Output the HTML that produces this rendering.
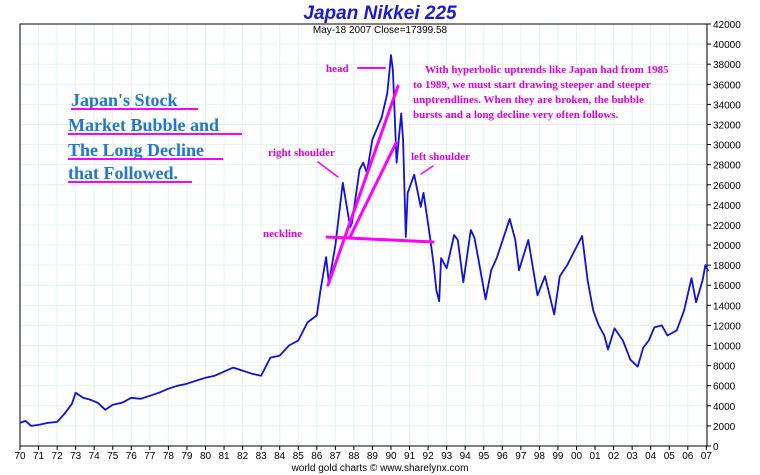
<!DOCTYPE html>
<html><head><meta charset="utf-8"><style>
html,body{margin:0;padding:0;background:#fff;}
svg{display:block;}
</style></head><body>
<svg id="chart" width="760" height="475" xmlns="http://www.w3.org/2000/svg">
<g id="grid"></g>
<g id="axes"></g>
<g id="series"></g>
<text x="380" y="19" text-anchor="middle" font-family="Liberation Sans, sans-serif" font-size="19" font-weight="bold" font-style="italic" fill="#1a1ad0">Japan Nikkei 225</text>
<text x="380" y="33" text-anchor="middle" font-family="Liberation Sans, sans-serif" font-size="10" fill="#000">May-18  2007   Close=17399.58</text>
<text x="380" y="471" text-anchor="middle" font-family="Liberation Sans, sans-serif" font-size="10" fill="#000">world gold charts © www.sharelynx.com</text>
<g font-family="Liberation Serif, serif" font-weight="bold" font-size="18" fill="#1e78d0">
<text x="71" y="106">Japan's Stock</text>
<text x="68" y="131">Market Bubble and</text>
<text x="68" y="156">The Long Decline</text>
<text x="68" y="179">that Followed.</text>
<g stroke="#ff00ff" stroke-width="2">
<line x1="71" y1="109" x2="198" y2="109"/>
<line x1="68" y1="134" x2="242" y2="134"/>
<line x1="68" y1="159" x2="223" y2="159"/>
<line x1="68" y1="182" x2="192" y2="182"/>
</g>
</g>
<g font-family="Liberation Serif, serif" font-weight="bold" font-size="11" fill="#e000e0">
<text x="326" y="72">head</text>
<text x="268" y="156">right shoulder</text>
<text x="411" y="160">left shoulder</text>
<text x="263" y="237">neckline</text>
<text x="425" y="73">With hyperbolic uptrends like Japan had from 1985</text>
<text x="413" y="88">to 1989, we must start drawing steeper and steeper</text>
<text x="413" y="103">unptrendlines.  When they are broken, the bubble</text>
<text x="413" y="118">bursts and a long decline very often follows.</text>
</g>
<g stroke="#ff00ff" stroke-width="3" stroke-linecap="round">
<line x1="358" y1="68" x2="385" y2="68" stroke-width="2"/>
<line x1="318" y1="162" x2="338" y2="177" stroke-width="1.5"/>
<line x1="421" y1="174" x2="433" y2="166" stroke-width="1.5"/>
<line x1="327" y1="237" x2="433" y2="242"/>
<line x1="328" y1="285" x2="398" y2="86"/>
<line x1="350" y1="237" x2="396" y2="143"/>
</g>
</svg>
<script>
const dates=[1970,1970.3,1970.6,1971,1971.5,1972,1972.4,1972.8,1973,1973.4,1973.8,1974.2,1974.6,1975,1975.5,1976,1976.5,1977,1977.5,1978,1978.5,1979,1979.5,1980,1980.5,1981,1981.5,1982,1982.5,1983,1983.5,1984,1984.5,1985,1985.5,1986,1986.2,1986.5,1986.65,1987,1987.4,1987.8,1987.9,1988.3,1988.5,1988.7,1989,1989.5,1989.8,1990,1990.1,1990.3,1990.55,1990.65,1990.8,1990.9,1991.25,1991.6,1991.75,1992.1,1992.3,1992.45,1992.6,1992.7,1993,1993.4,1993.6,1993.9,1994.3,1994.5,1994.7,1995.1,1995.4,1995.7,1996.4,1996.7,1996.9,1997.4,1997.9,1998.3,1998.8,1999.1,1999.5,2000.3,2000.6,2000.9,2001.2,2001.5,2001.7,2002.05,2002.5,2002.9,2003.3,2003.6,2003.9,2004.2,2004.6,2004.9,2005.4,2005.8,2006.2,2006.45,2006.8,2006.95,2007.1,2007.38];
const values=[2300,2500,2000,2100,2300,2400,3200,4200,5300,4800,4600,4300,3600,4100,4300,4800,4700,5000,5300,5700,6000,6200,6500,6800,7000,7400,7800,7500,7200,7000,8800,9000,10000,10500,12300,13000,15500,18800,16200,20000,26200,21800,22200,27500,28200,27200,30500,32700,35100,38900,37400,28200,33100,30400,20800,25200,27000,23800,25200,20800,18000,15500,14400,18700,17700,21000,20500,16300,21500,20700,18700,14600,17500,18700,22600,20500,17500,20500,15000,16900,13100,16900,18000,20900,16500,13500,12000,11000,9600,11700,10500,8600,7900,9800,10500,11800,12000,11000,11500,13500,16700,14300,16500,18000,17400];
const yTicks=[0,2000,4000,6000,8000,10000,12000,14000,16000,18000,20000,22000,24000,26000,28000,30000,32000,34000,36000,38000,40000,42000];
const xLabels=['70','71','72','73','74','75','76','77','78','79','80','81','82','83','84','85','86','87','88','89','90','91','92','93','94','95','96','97','98','99','00','01','02','03','04','05','06','07'];
const L=20,R=707,T=24,B=446;
function xs(yr){return L+(yr-1970)*18.55;}
function ys(v){return B-v/42000*(B-T);}
const NS='http://www.w3.org/2000/svg';
const grid=document.getElementById('grid'),axes=document.getElementById('axes'),series=document.getElementById('series');
function mk(tag,attrs,parent){const e=document.createElementNS(NS,tag);for(const k in attrs)e.setAttribute(k,attrs[k]);parent.appendChild(e);return e;}
yTicks.forEach(v=>{
  const y=ys(v);
  const g=mk('line',{x1:L,x2:R,y1:y,y2:y,stroke:'#e2f2f2','stroke-width':1},grid);
  
  
  const t=mk('line',{x1:R,x2:R+4,y1:y,y2:y,stroke:'#000'},axes);
  
  
  const tx=mk('text',{x:R+6,y:y+4,'font-family':'Liberation Sans, sans-serif','font-size':10,fill:'#000'},axes);
  tx.textContent=v;
  
  
});
xLabels.forEach((lab,i)=>{
  const x=xs(1970+i);
  const g=mk('line',{x1:x,x2:x,y1:T,y2:B,stroke:'#e2f2f2','stroke-width':1},grid);
  
  
  const t=mk('line',{x1:x,x2:x,y1:B,y2:B+4,stroke:'#000'},axes);
  
  
  const tx=mk('text',{x:x,y:B+13,'text-anchor':'middle','font-family':'Liberation Sans, sans-serif','font-size':10,fill:'#000'},axes);
  tx.textContent=lab;
  
  
});
const frame=mk('rect',{x:L,y:T,width:R-L,height:B-T,fill:'none',stroke:'#000','stroke-width':1},axes);


const pts=dates.map((d,i)=>xs(d).toFixed(1)+','+ys(values[i]).toFixed(1)).join(' ');
const line=mk('polyline',{points:pts,fill:'none',stroke:'#1010e0','stroke-width':1.8,'stroke-linejoin':'round'},series);


</script>
</body></html>
